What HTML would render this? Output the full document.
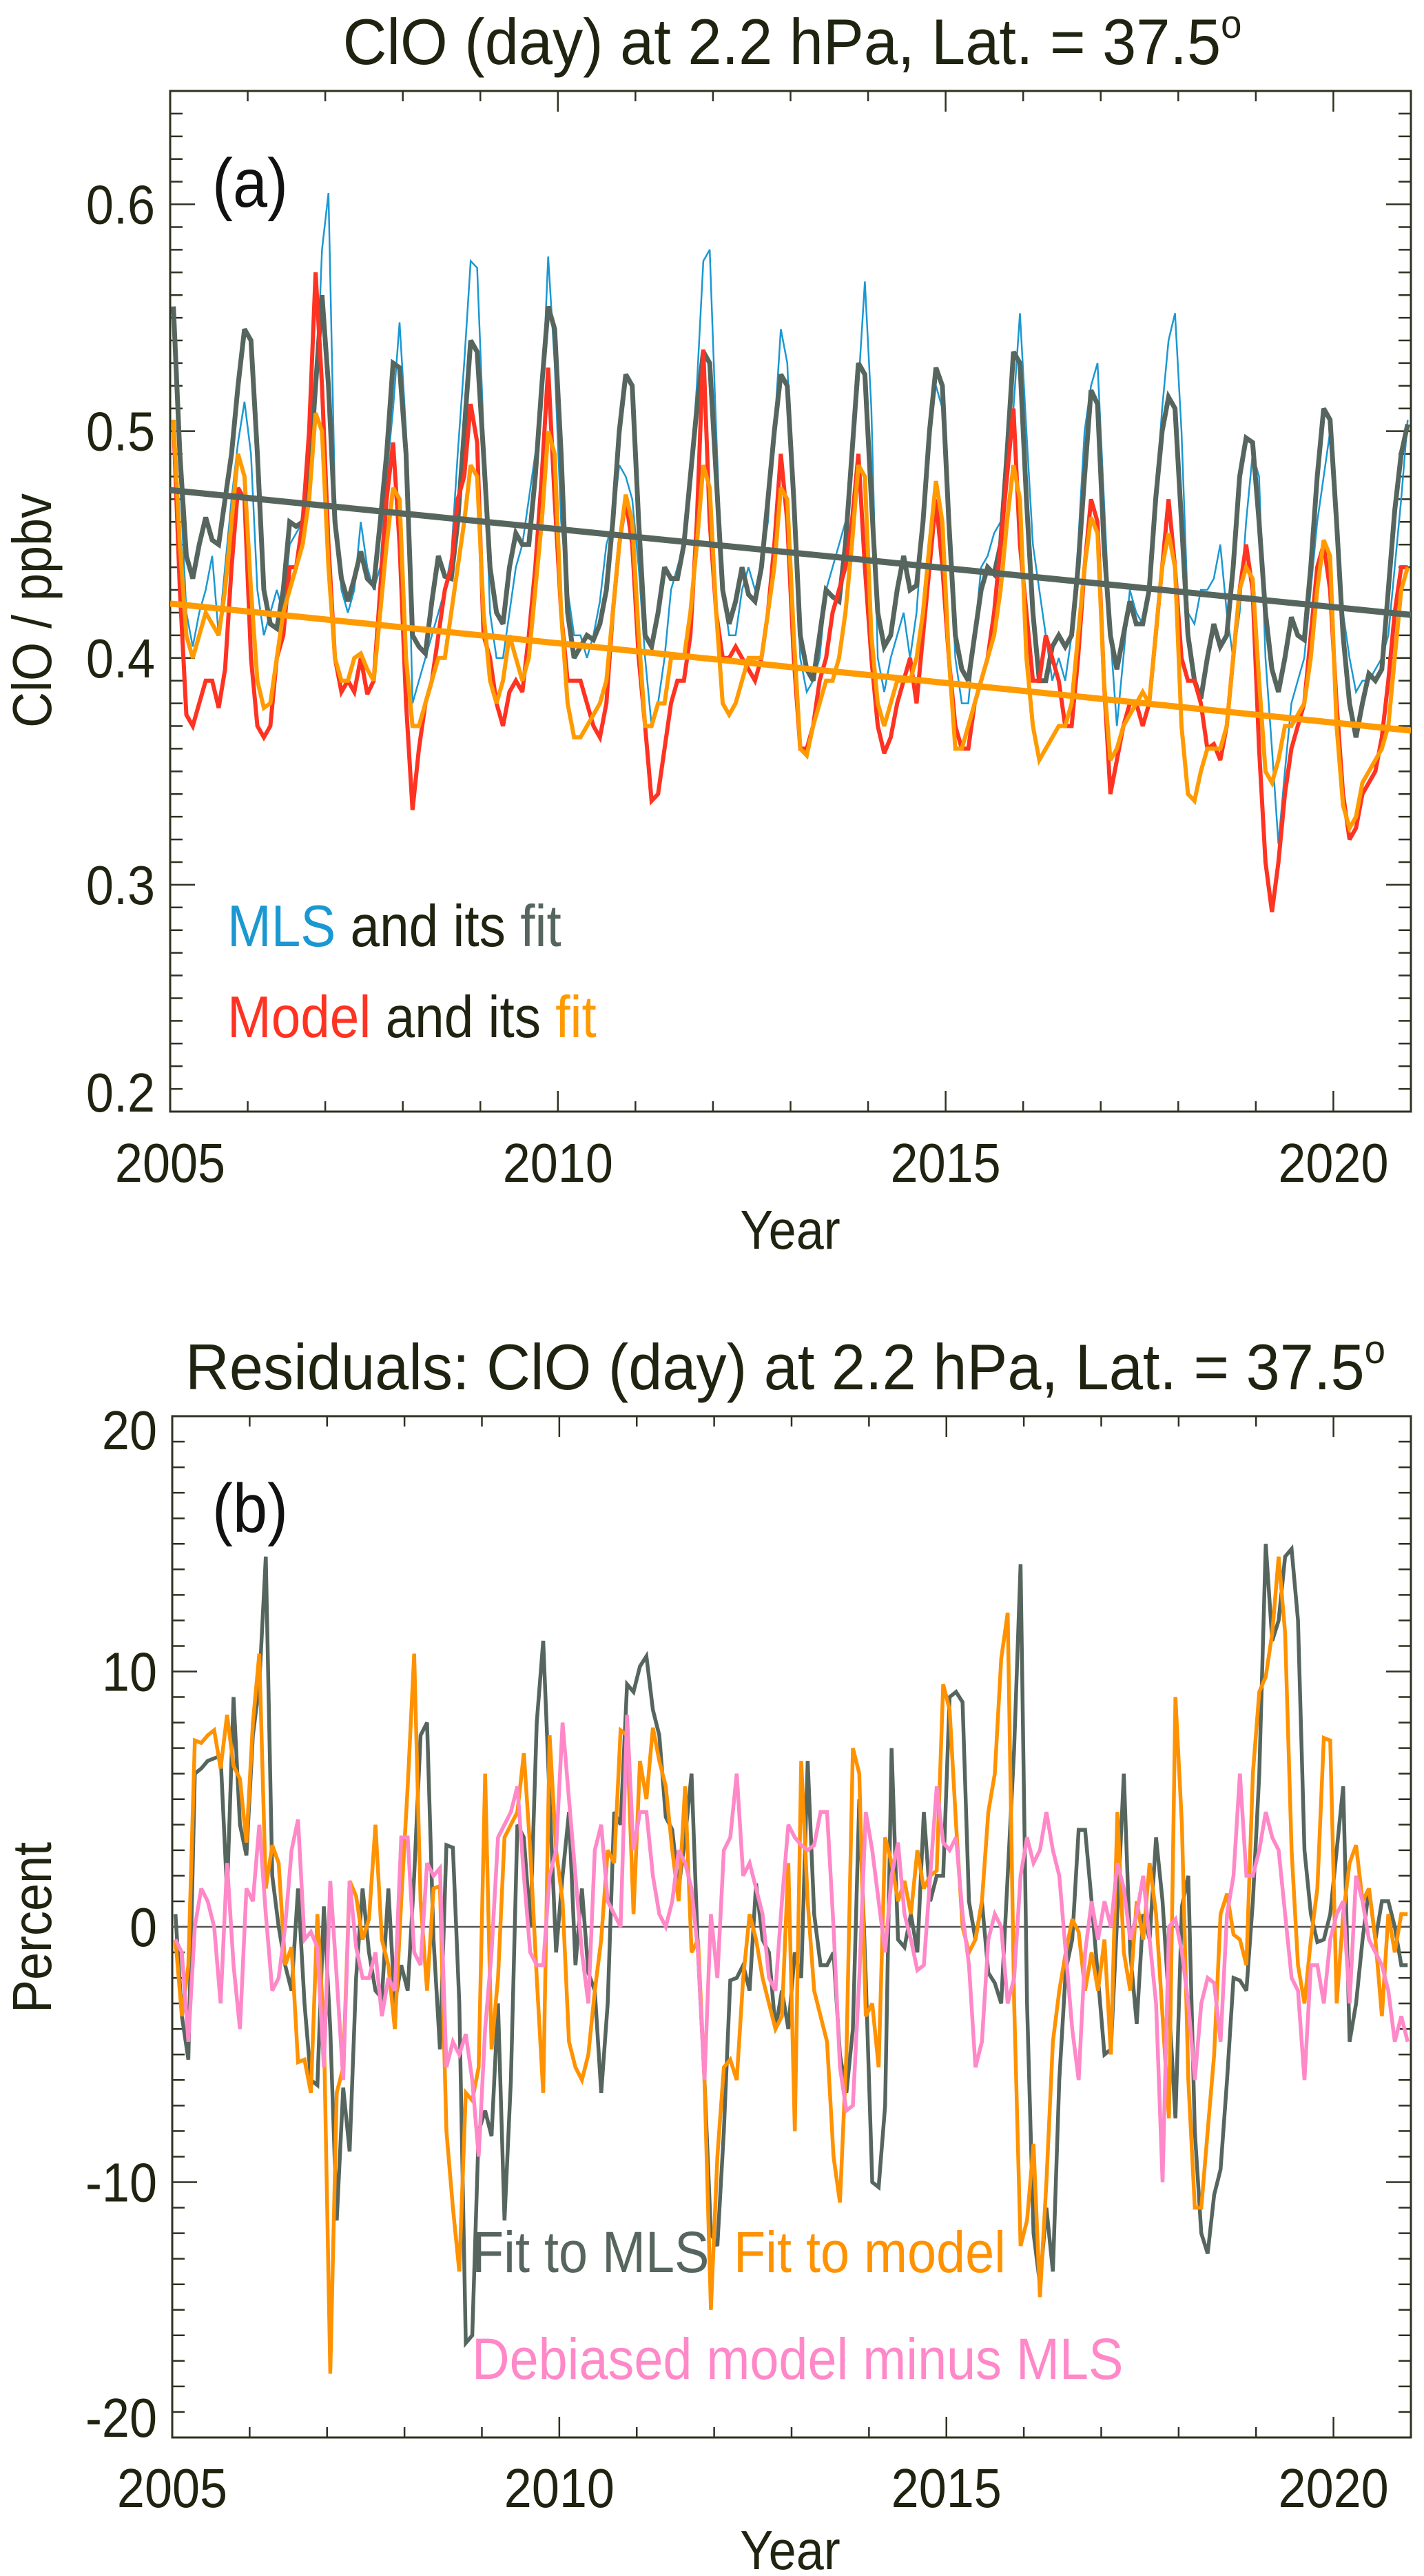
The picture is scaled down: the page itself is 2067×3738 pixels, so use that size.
<!DOCTYPE html>
<html><head><meta charset="utf-8"><style>
html,body{margin:0;padding:0;background:#fff;}
svg{display:block;font-family:"Liberation Sans",Arial,sans-serif;}
</style></head><body>
<svg id="fig" xmlns="http://www.w3.org/2000/svg" width="2067" height="3738" viewBox="0 0 2067 3738">
<rect x="0" y="0" width="2067" height="3738" fill="#fff"/>
<g id="pa"></g>
<g id="pb"></g>
</svg>
<script>
// ---------- Panel (a) data: monthly ClO (ppbv), Jan 2005 .. Dec 2020 ----------
const startYear = 2005;
const mlsData = [
.55,.48,.42,.405,.42,.43,.445,.41,.44,.47,.495,.513,
.49,.43,.41,.42,.43,.42,.45,.455,.46,.47,.51,.58,
.605,.47,.43,.42,.43,.46,.44,.43,.44,.48,.51,.548,
.50,.38,.39,.40,.41,.42,.43,.445,.49,.53,.575,.572,
.50,.42,.40,.40,.42,.44,.45,.47,.49,.51,.577,.53,
.46,.43,.41,.41,.40,.41,.425,.45,.46,.485,.48,.47,
.44,.40,.37,.38,.40,.43,.44,.45,.48,.52,.575,.58,
.50,.43,.41,.41,.43,.44,.43,.44,.46,.50,.545,.53,
.46,.40,.385,.39,.40,.43,.44,.45,.46,.49,.52,.566,
.51,.40,.385,.40,.41,.42,.40,.42,.46,.50,.52,.51,
.46,.40,.38,.38,.41,.44,.445,.455,.46,.49,.51,.552,
.50,.45,.43,.41,.39,.40,.39,.41,.45,.50,.52,.53,
.47,.41,.37,.40,.43,.42,.415,.43,.47,.51,.54,.552,
.50,.42,.415,.43,.43,.435,.45,.42,.40,.42,.46,.49,
.48,.40,.36,.318,.35,.38,.39,.40,.43,.46,.48,.50,
.46,.42,.40,.385,.39,.39,.395,.40,.41,.44,.47,.505];
const mlsFit = [
.555,.49,.445,.435,.45,.462,.452,.45,.47,.49,.52,.545,
.54,.49,.43,.415,.413,.43,.46,.458,.46,.48,.52,.56,
.52,.46,.435,.425,.435,.447,.435,.432,.46,.49,.53,.528,
.49,.41,.405,.402,.425,.445,.436,.435,.46,.50,.54,.535,
.49,.44,.42,.415,.44,.455,.45,.45,.48,.52,.555,.545,
.49,.42,.40,.405,.41,.408,.415,.43,.46,.50,.525,.52,
.46,.41,.405,.42,.44,.435,.435,.45,.48,.51,.535,.53,
.48,.43,.415,.425,.44,.428,.425,.44,.47,.50,.525,.52,
.47,.41,.395,.39,.41,.43,.427,.425,.45,.49,.53,.525,
.47,.42,.405,.41,.43,.445,.43,.432,.46,.50,.528,.52,
.46,.41,.395,.39,.41,.43,.44,.437,.45,.49,.535,.53,
.47,.42,.39,.39,.405,.41,.405,.41,.44,.48,.518,.512,
.45,.41,.395,.41,.425,.415,.415,.43,.47,.50,.515,.51,
.46,.41,.39,.382,.40,.415,.405,.41,.44,.48,.497,.495,
.46,.42,.395,.385,.40,.418,.41,.408,.44,.48,.51,.505,
.46,.41,.38,.365,.38,.393,.39,.395,.43,.465,.49,.503];
const modelData = [
.505,.43,.375,.37,.38,.39,.39,.378,.395,.44,.475,.47,
.40,.37,.365,.37,.40,.41,.44,.44,.46,.50,.57,.52,
.45,.40,.385,.39,.385,.40,.384,.39,.43,.47,.495,.45,
.38,.333,.36,.38,.39,.41,.43,.44,.47,.48,.512,.495,
.41,.40,.38,.37,.385,.39,.385,.41,.44,.48,.528,.47,
.42,.39,.39,.39,.38,.37,.365,.38,.42,.45,.47,.45,
.40,.37,.337,.34,.36,.38,.39,.39,.41,.46,.536,.46,
.42,.40,.40,.405,.40,.395,.39,.40,.42,.45,.49,.46,
.40,.36,.36,.37,.39,.40,.42,.43,.44,.46,.49,.44,
.40,.37,.358,.365,.38,.39,.40,.38,.41,.44,.47,.44,
.40,.37,.36,.36,.38,.39,.40,.42,.45,.48,.51,.45,
.42,.39,.39,.41,.40,.39,.37,.37,.40,.44,.47,.46,
.39,.34,.355,.37,.38,.38,.37,.38,.41,.44,.47,.44,
.40,.39,.39,.38,.36,.362,.355,.37,.40,.43,.45,.43,
.36,.31,.288,.31,.34,.36,.37,.38,.41,.44,.45,.43,
.38,.34,.32,.325,.34,.345,.35,.365,.39,.42,.44,.44];
const modelFit = [
.505,.45,.41,.40,.41,.42,.415,.41,.43,.46,.49,.48,
.43,.39,.378,.38,.40,.42,.43,.44,.45,.47,.508,.50,
.44,.40,.39,.39,.40,.402,.395,.39,.42,.45,.475,.47,
.40,.37,.37,.38,.39,.40,.40,.42,.44,.46,.485,.48,
.42,.39,.38,.39,.41,.40,.39,.40,.43,.46,.50,.49,
.42,.38,.365,.365,.37,.375,.38,.39,.42,.45,.472,.46,
.41,.37,.37,.38,.38,.40,.40,.40,.42,.45,.485,.475,
.42,.38,.375,.38,.39,.40,.40,.40,.42,.44,.475,.47,
.41,.36,.357,.37,.38,.39,.39,.40,.42,.45,.485,.48,
.41,.38,.37,.38,.39,.39,.39,.40,.42,.45,.478,.46,
.40,.36,.36,.37,.38,.39,.40,.41,.43,.46,.485,.47,
.40,.37,.355,.36,.365,.37,.37,.38,.41,.44,.462,.455,
.39,.355,.36,.37,.375,.38,.385,.38,.41,.44,.455,.44,
.37,.34,.337,.35,.36,.36,.36,.37,.40,.43,.44,.435,
.39,.35,.345,.355,.37,.37,.375,.38,.40,.43,.452,.445,
.37,.335,.325,.33,.345,.35,.355,.36,.37,.40,.43,.44];
const trendYears = [2005, 2021];
const mlsTrend = [0.474, 0.419];
const modelTrend = [0.424, 0.368];
const yTicksA = [0.2, 0.3, 0.4, 0.5, 0.6];
const yTickLabelsA = ["0.2", "0.3", "0.4", "0.5", "0.6"];
const xTicks = [2005, 2010, 2015, 2020];
const xTickLabels = ["2005", "2010", "2015", "2020"];

// ---------- Panel (b) data: residuals (percent) ----------
const residMls = [
0.5,-3.5,-5.2,6,6.2,6.5,6.6,6.7,1.3,9,4,2.8,
7.5,9.5,14.5,2,0,-1.5,-2.5,1.5,-3,-6,-6.2,0.8,
-4,-11.5,-6.3,-8.8,-2,1.5,-1,-2.5,-2.8,1.5,-3,-1.5,
-2.5,2,7.5,8,-0.5,-4.8,3.2,3.1,-3,-16.3,-16,-8,
-7.2,-8.2,-3,-11.5,-6,4,3.5,0,8,11.2,5,-1,
2,4.5,-1.5,1.5,-1.8,-2.5,-6.5,-3,4.5,4,9.5,9.2,
10.2,10.6,8.5,7.5,4.3,3.8,1.5,3.5,6,-1,-6,-12,
-12.5,-8,-2.1,-2,-1.5,-2.5,1.7,-0.5,-1,-4,-2.5,-4,
-1,-2,6.5,0.5,-1.5,-1.5,-1,-5,-6.5,-4,5,-2,
-10,-10.2,-7,7,-0.5,-0.8,0.5,-1,4.5,1,2,2,
9,9.2,8.8,1,-0.5,1,-1.8,-2.2,-3,2,7,14.2,
-3,-12,-14,-11,-13.5,-6,-1.7,-0.5,3.8,3.8,1,-2,
-5,-4.8,0.5,6,-1,-3.8,0.5,-0.5,3.5,1,-3,-7.5,
0.8,2,-8,-12,-12.8,-10.5,-9.5,-6,-2,-2.1,-2.5,1,
6,15,11.2,12,14.5,14.8,12,3,0.5,-0.6,-0.5,0.5,
3,5.5,-4.5,-3,-0.5,1.5,-0.5,1,1,0,-1.5,-1.5];
const residModel = [
-0.5,-3.5,-1.5,7.3,7.2,7.5,7.7,6.2,8.3,6.3,5.8,3.3,
8,10.7,1.5,3.2,2.5,-1.5,-0.8,-5.3,-5.2,-6.5,0.5,-4,
-17.5,-6.5,-5.5,1.8,1.2,-0.5,0.3,4,-0.5,-1.5,-4,1,
5.5,10.7,1,-2.5,1.5,1.6,-8,-11,-13.5,-6.5,-6.8,-5.5,
6,-4.8,-2,3.5,4,4.5,6.8,3,-2,-6.5,7.5,3,
1,-4.5,-5.5,-6,-5,-2.5,-0.5,3,2.5,7.7,7.5,0.5,
6.5,5,7.8,6.5,5.5,3,1,5.5,-1,-0.5,-6,-15,
-9,-5.5,-5.2,-6,-2,0.5,-0.5,-2,-3,-4,-3.5,2.5,
-8,6.5,1,-2.5,-3.5,-4.5,-9,-10.8,-5,7,6,-3.5,
-3,-5.5,3.5,2.5,1,1.8,0.5,3,1.5,2,2.2,9.5,
8.5,4,0,-1,-0.5,1,4.5,6,10.5,12.3,-3,-12.5,
-11.5,-8.5,-14.5,-10,-4.5,-2.5,-1,0.3,-0.2,-2.5,-1,-2.5,
-0.5,-5,4.5,-1,-2.5,1,-0.5,2.5,0.5,-3.5,-7.5,9,
4,-6,-11,-11,-8,-5,0.5,1.3,-0.3,-0.5,-1.5,6,
9.2,9.8,11.5,14.5,11.5,3,-1.5,-3,-0.5,1.5,7.4,7.3,
-3,0.5,2.5,3.2,1,1.5,-0.5,-3.5,0.5,-1,0.5,0.5];
const residDiff = [
-0.5,-1,-4.5,0,1.5,1,0,-3,2.5,-1.5,-4,1.5,
1,4,0.5,-2.5,-2,0,3,4.2,-0.5,-0.2,-0.8,-5.5,
1.8,-2,-6,1.8,-0.8,-2,-2,-1,-3.5,-2,-2.5,3.5,
3.5,-1,-1.5,2.5,2,2.3,-5.5,-4.5,-5,-4.2,-6,-9,
-4,-1,3.5,4,4.5,5.5,2,-1,-1.5,-1.5,2,3,
8,5,2,-1,-3,3,4,1,0.5,0,8.3,3,
4.5,4.5,2,0.5,0,1,3,2.5,1.5,-1,-6,0.5,
-2,3,3.5,6,2,2.5,1.5,0.5,-2,-2.5,1,4,
3.5,3.2,3,3.2,4.5,4.5,0,-5.5,-7.2,-7,-2,4.5,
3,1,-1,2,3.3,0.5,-0.5,-1.7,-1.5,2,5.5,3.3,
3,3.5,0.5,-1.5,-5.5,-4.5,-0.5,0.5,0,-3,-2,2,
3.5,2.5,3,4.5,3,2,-1,-4,-6,-1,1,-0.5,
1,0,2.5,1.5,-0.5,0.5,2,-0.5,-3,-10,0,0.3,
-1,-3,-6,-3,-2,-2.2,-4.5,0.5,2,6,2,2,
3,4.5,3.5,3,0.5,-2,-2.5,-6,-1.5,-1.5,-3,-0.5,
0.5,1,-3,2,1,-0.5,-1,-1.5,-2.5,-4.5,-3.5,-4.5];
const yTicksB = [-20, -10, 0, 10, 20];
const yTickLabelsB = ["-20", "-10", "0", "10", "20"];

// ---------- helpers ----------
const NS = "http://www.w3.org/2000/svg";
const TXT = "#1f2410";
const AX = "#2c3320";
function mk(tag, attrs, parent) {
  const e = document.createElementNS(NS, tag);
  for (const k in attrs) e.setAttribute(k, attrs[k]);
  parent.appendChild(e);
  return e;
}
function label(parent, x, y, str, size, anchor, color, name) {
  const t = mk("text", {transform: "translate(" + x + "," + y + ") scale(0.9,1)", "font-size": size, "text-anchor": anchor, fill: color}, parent);
  t.textContent = str;
  
  
  return t;
}
function tMonth(i) { return startYear + (i + 0.5) / 12; }

function drawFrame(g, L, R, T, B, yMin, yMax, yMajor, yMinorStep, yLabels, yLabelShift, name) {
  const X = yr => L + (yr - 2005) / 16 * (R - L);
  const Y = v => B - (v - yMin) / (yMax - yMin) * (B - T);
  const frame = mk("rect", {x: L, y: T, width: R - L, height: B - T, fill: "none", stroke: AX, "stroke-width": 3}, g);
  
  
  const tk = mk("g", {stroke: AX, "stroke-width": 2.5}, g);
  
  
  for (let yr = 2005; yr <= 2021; yr++) {
    const len = (yr % 5 === 0) ? 30 : 15;
    const x = X(yr);
    mk("line", {x1: x, x2: x, y1: B, y2: B - len}, tk);
    mk("line", {x1: x, x2: x, y1: T, y2: T + len}, tk);
  }
  const nMin = Math.round((yMax - yMin) / yMinorStep);
  for (let k = 0; k <= nMin; k++) {
    const v = yMin + k * yMinorStep;
    const isMaj = yMajor.some(m => Math.abs(m - v) < yMinorStep / 10);
    const len = isMaj ? 36 : 18;
    const y = Y(v);
    mk("line", {x1: L, x2: L + len, y1: y, y2: y}, tk);
    mk("line", {x1: R, x2: R - len, y1: y, y2: y}, tk);
  }
  yMajor.forEach((v, i) => {
    label(g, L - 22, Y(v) + 28 + yLabelShift[i], yLabels[i], 80, "end", TXT, name + '-y-tick-label');
  });
  return {X, Y};
}
function series(g, X, Y, vals, color, width, name) {
  let d = "";
  vals.forEach((v, i) => { d += (i ? "L" : "M") + X(tMonth(i)).toFixed(1) + "," + Y(v).toFixed(1); });
  const p = mk("path", {d: d, fill: "none", stroke: color, "stroke-width": width, "stroke-linejoin": "miter", "stroke-miterlimit": 3}, g);
  
  
  return p;
}

// ---------- Panel (a) ----------
const ga = document.getElementById("pa");
const A = {L: 247, R: 2048, T: 132, B: 1613};
const title1 = mk("text", {transform: "translate(1150,93) scale(0.94,1)", "font-size": 94, "text-anchor": "middle", fill: TXT}, ga);
title1.textContent = "ClO (day) at 2.2 hPa, Lat. = 37.5";
const sup1 = mk("tspan", {"font-size": 58, dy: -38}, title1);
sup1.textContent = "o";



const clipA = mk("clipPath", {id: "clipA"}, ga);
mk("rect", {x: A.L, y: A.T, width: A.R - A.L, height: A.B - A.T}, clipA);
const sa = drawFrame(ga, A.L, A.R, A.T, A.B, 0.2, 0.65, yTicksA, 0.01, yTickLabelsA, [-28, 0, 0, 0, 0], "panel-a");
const plotA = mk("g", {"clip-path": "url(#clipA)"}, ga);


series(plotA, sa.X, sa.Y, mlsData, "#1b98d2", 2.5, "mls-series");
series(plotA, sa.X, sa.Y, mlsFit, "#56665e", 7, "mls-fit-series");
series(plotA, sa.X, sa.Y, modelData, "#ff3322", 6, "model-series");
series(plotA, sa.X, sa.Y, modelFit, "#ff9a00", 6, "model-fit-series");
const tr1 = mk("line", {x1: sa.X(trendYears[0]), y1: sa.Y(mlsTrend[0]), x2: sa.X(trendYears[1]), y2: sa.Y(mlsTrend[1]), stroke: "#56665e", "stroke-width": 9}, plotA);


const tr2 = mk("line", {x1: sa.X(trendYears[0]), y1: sa.Y(modelTrend[0]), x2: sa.X(trendYears[1]), y2: sa.Y(modelTrend[1]), stroke: "#ff9a00", "stroke-width": 9}, plotA);



xTicks.forEach((yr, i) => label(ga, sa.X(yr), 1715, xTickLabels[i], 80, "middle", TXT, 'panel-a-x-tick-label'));
label(ga, 1147, 1812, "Year", 80, "middle", TXT, 'panel-a-x-axis-title');
const yt1 = mk("text", {transform: "translate(74,886) rotate(-90) scale(0.9,1)", "font-size": 80, "text-anchor": "middle", fill: TXT}, ga);
yt1.textContent = "ClO / ppbv";


label(ga, 308, 300, "(a)", 100, "start", "#111", 'panel-a-label');

const lg1 = mk("text", {transform: "translate(330,1373) scale(0.9,1)", "font-size": 85, fill: TXT}, ga);


mk("tspan", {fill: "#1b98d2"}, lg1).textContent = "MLS";
mk("tspan", {}, lg1).textContent = " and its ";
mk("tspan", {fill: "#56665e"}, lg1).textContent = "fit";
const lg2 = mk("text", {transform: "translate(330,1505) scale(0.9,1)", "font-size": 85, fill: TXT}, ga);


mk("tspan", {fill: "#ff3322"}, lg2).textContent = "Model";
mk("tspan", {}, lg2).textContent = " and its ";
mk("tspan", {fill: "#ff9a00"}, lg2).textContent = "fit";

// ---------- Panel (b) ----------
const gb = document.getElementById("pb");
const Bp = {L: 250, R: 2048, T: 2055, B: 3537};
const title2 = mk("text", {transform: "translate(1140,2016) scale(0.94,1)", "font-size": 94, "text-anchor": "middle", fill: TXT}, gb);
title2.textContent = "Residuals: ClO (day) at 2.2 hPa, Lat. = 37.5";
const sup2 = mk("tspan", {"font-size": 58, dy: -38}, title2);
sup2.textContent = "o";



const clipB = mk("clipPath", {id: "clipB"}, gb);
mk("rect", {x: Bp.L, y: Bp.T, width: Bp.R - Bp.L, height: Bp.B - Bp.T}, clipB);
const sb = drawFrame(gb, Bp.L, Bp.R, Bp.T, Bp.B, -20, 20, yTicksB, 1, yTickLabelsB, [-29, 0, 0, 0, 20], "panel-b");
const plotB = mk("g", {"clip-path": "url(#clipB)"}, gb);


const zl = mk("line", {x1: Bp.L, x2: Bp.R, y1: sb.Y(0), y2: sb.Y(0), stroke: "#555", "stroke-width": 2.5}, plotB);


series(plotB, sb.X, sb.Y, residMls, "#56665e", 5.5, "fit-to-mls-residual");
series(plotB, sb.X, sb.Y, residModel, "#ff9200", 5.5, "fit-to-model-residual");
series(plotB, sb.X, sb.Y, residDiff, "#ff88c8", 5.5, "debiased-model-minus-mls");

xTicks.forEach((yr, i) => label(gb, sb.X(yr), 3638, xTickLabels[i], 80, "middle", TXT, 'panel-b-x-tick-label'));
label(gb, 1147, 3728, "Year", 80, "middle", TXT, 'panel-b-x-axis-title');
const yt2 = mk("text", {transform: "translate(74,2797) rotate(-90) scale(0.9,1)", "font-size": 80, "text-anchor": "middle", fill: TXT}, gb);
yt2.textContent = "Percent";


label(gb, 308, 2223, "(b)", 100, "start", "#111", 'panel-b-label');

const lg3 = mk("text", {transform: "translate(685,3297) scale(0.9,1)", "font-size": 84, fill: "#56665e"}, gb);


lg3.textContent = "Fit to MLS";
const lg4 = mk("text", {transform: "translate(1065,3297) scale(0.9,1)", "font-size": 84, fill: "#ff9200"}, gb);


lg4.textContent = "Fit to model";
const lg5 = mk("text", {transform: "translate(685,3452) scale(0.9,1)", "font-size": 84, fill: "#ff88c8"}, gb);


lg5.textContent = "Debiased model minus MLS";
</script>
</body></html>
